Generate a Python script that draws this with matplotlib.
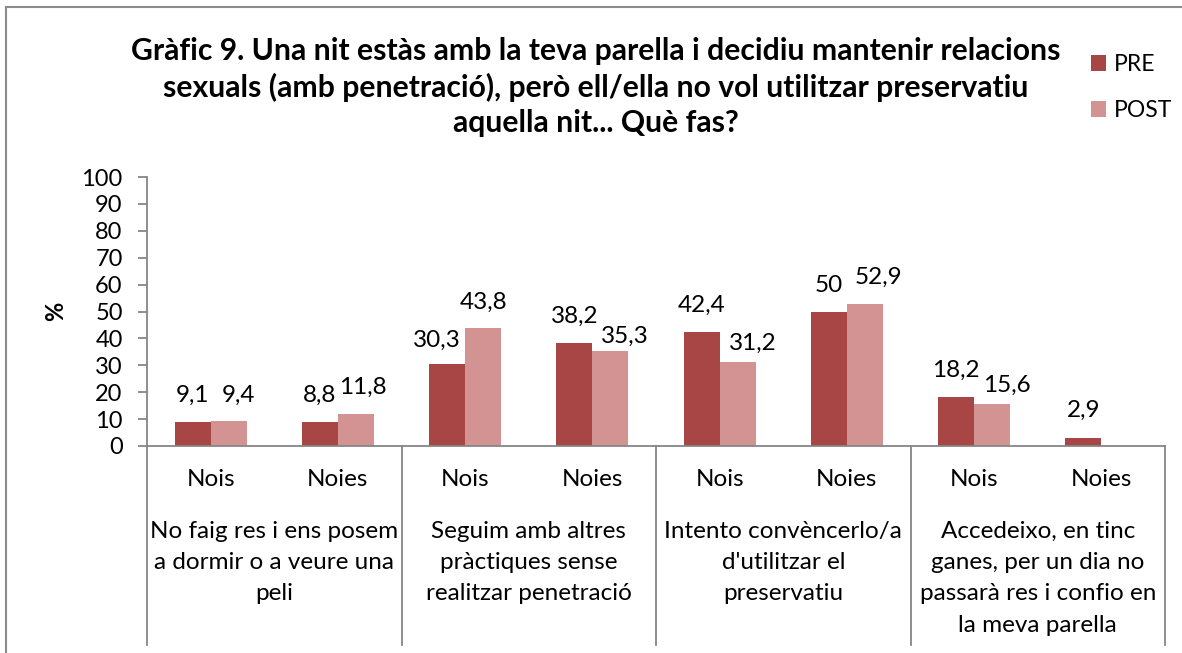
import matplotlib
matplotlib.use("Agg")
import matplotlib.pyplot as plt
import matplotlib.transforms as mtransforms
from matplotlib.lines import Line2D
import numpy as np

plt.rcParams['font.family'] = ['Lato', 'DejaVu Sans']

title = ("Gràfic 9. Una nit estàs amb la teva parella i decidiu mantenir relacions\n"
         "sexuals (amb penetració), però ell/ella no vol utilitzar preservatiu\n"
         "aquella nit... Què fas?")
sub_labels = ["Nois", "Noies", "Nois", "Noies", "Nois", "Noies", "Nois", "Noies"]
group_labels = ["No faig res i ens posem\na dormir o a veure una\npeli",
                "Seguim amb altres\npràctiques sense\nrealitzar penetració",
                "Intento convèncerlo/a\nd'utilitzar el\npreservatiu",
                "Accedeixo, en tinc\nganes, per un dia no\npassarà res i confio en\nla meva parella"]
series_names = ["PRE", "POST"]
pre = [9.1, 8.8, 30.3, 38.2, 42.4, 50, 18.2, 2.9]
post = [9.4, 11.8, 43.8, 35.3, 31.2, 52.9, 15.6, None]
colors = ["#A84646", "#D49393"]
yticks = list(range(0, 101, 10))

# manual nudges of data labels (pixels): (dx, gap above bar top)
pre_label_nudge = [(0, 20), (0, 20), (-10, 18), (0, 20), (0, 20), (0, 20), (0, 20), (0, 21)]
post_label_nudge = [(10, 19), (7, 20), (0, 19), (14, 8), (15, 12), (14, 20), (15, 12), (0, 20)]

W, H = 1182, 653
fig = plt.figure(figsize=(W / 100, H / 100), dpi=100)
ax = fig.add_axes([147 / W, (H - 446) / H, (1165 - 147) / W, (446 - 177) / H])

x = np.arange(len(sub_labels))
bw = 0.283
for vals, off, col, name, nudges in [(pre, -bw / 2, colors[0], series_names[0], pre_label_nudge),
                                     (post, bw / 2, colors[1], series_names[1], post_label_nudge)]:
    xs = [xi + off for xi, v in zip(x, vals) if v is not None]
    vs = [v for v in vals if v is not None]
    ns = [n for n, v in zip(nudges, vals) if v is not None]
    ax.bar(xs, vs, width=bw, color=col, label=name)
    for xi, v, (dx, dy) in zip(xs, vs, ns):
        lab = ("%g" % v).replace(".", ",")
        ax.annotate(lab, (xi, v), xytext=(dx, dy), textcoords="offset pixels",
                    ha="center", va="baseline", fontsize=17.5)

ax.set_xlim(-0.5, len(sub_labels) - 0.5)
ax.set_ylim(0, 100)
ax.set_yticks(yticks)
ax.set_yticklabels([str(t) for t in yticks], fontsize=17)
ax.set_xticks([])
for s in ["top", "right"]:
    ax.spines[s].set_visible(False)
for s in ["left", "bottom"]:
    ax.spines[s].set_color("#868686")
    ax.spines[s].set_linewidth(1.3)
ax.tick_params(axis="y", length=6.5, width=1.3, color="#868686", pad=11)

ax.set_ylabel("%", fontsize=17, fontweight="bold")
ax.yaxis.set_label_coords(-80 / 1018, 0.5)

trans = mtransforms.blended_transform_factory(ax.transData, fig.transFigure)
for xi, lab in zip(x, sub_labels):
    ax.text(xi, (H - 479) / H, lab, transform=trans, ha="center", va="center", fontsize=17.5)
for gi, lab in enumerate(group_labels):
    ax.text(2 * gi + 0.5, (H - 521) / H, lab, transform=trans, ha="center", va="top",
            fontsize=17.5, linespacing=1.6)
for sx in [-0.5, 1.5, 3.5, 5.5, 7.5]:
    ax.add_line(Line2D([sx, sx], [(H - 446) / H, (H - 645) / H], transform=trans,
                       color="#868686", lw=1.3, clip_on=False))

fig.text(596 / W, (H - 87) / H, title, ha="center", va="center", fontsize=21.7,
         fontweight="bold", linespacing=1.3)

leg = fig.legend(loc="upper left", bbox_to_anchor=(1091 / W, (H - 54) / H), frameon=False,
                 fontsize=16.5, handlelength=0.66, handleheight=0.66, handletextpad=0.35,
                 labelspacing=1.1, borderpad=0, borderaxespad=0)

fig.add_artist(Line2D([6 / W, 6 / W], [0, (H - 7) / H], color="#8c8c8c", lw=1.5))
fig.add_artist(Line2D([6 / W, 1], [(H - 7) / H, (H - 7) / H], color="#8c8c8c", lw=1.5))

fig.savefig("out.png", dpi=100)
